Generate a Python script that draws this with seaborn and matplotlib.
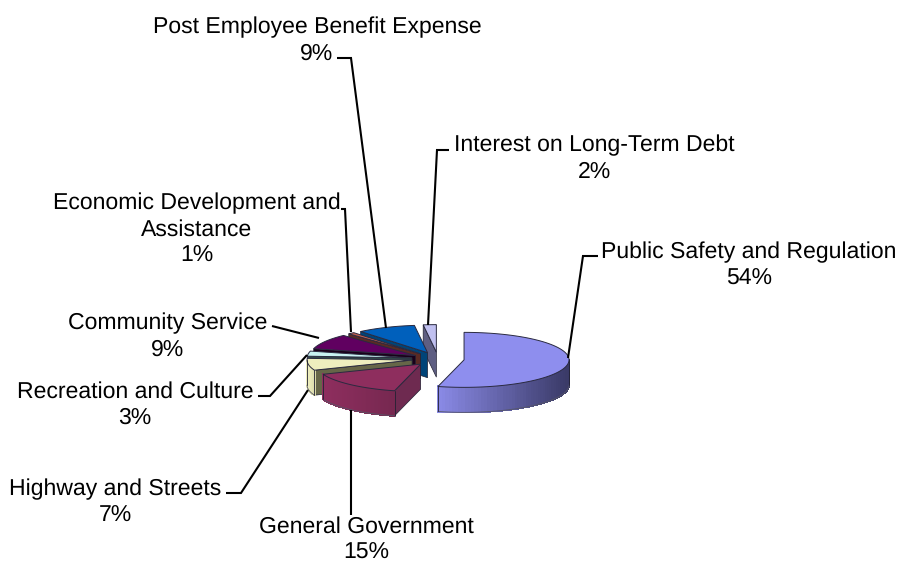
"""Exploded 3D style pie of expenses by function, drawn on a pixel sized axes."""
import numpy as np
import matplotlib.pyplot as plt
import seaborn as sns

categories = [
    "Public Safety and Regulation",
    "General Government",
    "Highway and Streets",
    "Recreation and Culture",
    "Community Service",
    "Economic Development and\nAssistance",
    "Post Employee Benefit Expense",
    "Interest on Long-Term Debt",
]
values = [54, 15, 7, 3, 9, 1, 9, 2]
top_colors = ["#8E8EEE", "#8E2E5E", "#EEEEBE", "#C8F2F2", "#600060", "#C0604F", "#0060BC", "#C0C0F0"]
side_light = ["#8A8AE6", "#8E2E5E", "#EEEEBE", "#B8E0E0", "#500050", "#A05044", "#0058A8", "#A8A8D8"]
side_dark = ["#383864", "#762850", "#D8D8A8", "#708080", "#300030", "#70352E", "#00406E", "#5C5C80"]
wall_colors = ["#5C5C80", "#6E2A50", "#666648", "#304848", "#1A001A", "#5A2A24", "#004478", "#5E5E82"]

# label anchor (centre x, last baseline) and leader line, same order as categories
label_xy = [(749, 285), (366, 559), (115, 522), (135, 424), (168, 356), (197, 262), (317, 60), (594, 178)]
leaders = [
    [(568, 358), (583, 256), (598, 256)],
    [(351, 410), (351, 515)],
    [(308, 390), (241, 493), (226, 493)],
    [(307, 355), (270, 396), (258, 396)],
    [(319, 338), (272, 326)],
    [(351, 332), (345, 209), (341, 209)],
    [(386, 328), (351, 58), (337, 58)],
    [(428, 325), (437, 150), (449, 150)],
]

CX, CY = 438, 359
RX, RY = 105, 27.5
DEPTH = 25
EXPLODE = 0.25

sns.set_theme(style="white")
plt.rcParams["font.family"] = ["Liberation Sans", "DejaVu Sans"]
plt.rcParams["text.hinting"] = "no_hinting"
plt.rcParams["text.hinting_factor"] = 1

fig = plt.figure(figsize=(8.97, 5.61), dpi=100)
ax = fig.add_axes([0, 0, 1, 1])
ax.set_xlim(0, 897)
ax.set_ylim(561, 0)
ax.axis("off")


def rim(cx, cy, theta):
    return cx + RX * np.sin(theta), cy - RY * np.cos(theta)


edges = np.radians(np.cumsum([0] + values) * 3.6)

# back slices first, the big slice sits clear of the others
for i in range(len(values) - 1, -1, -1):
    start, end = edges[i], edges[i + 1]
    mid = (start + end) / 2
    cx, cy = rim(CX, CY, mid)
    cx = CX + EXPLODE * (cx - CX)
    cy = CY + EXPLODE * (cy - CY)

    # cut face at the start of the slice, only seen on the left half
    if np.pi < start < 2 * np.pi:
        sx, sy = rim(cx, cy, start)
        ax.fill([cx, sx, sx, cx], [cy, sy, sy + DEPTH, cy + DEPTH],
                color=wall_colors[i], ec="#222233", lw=0.5)

    # outer side, front half of the rim only
    lo, hi = max(start, np.pi / 2), min(end, 3 * np.pi / 2)
    if lo < hi:
        thetas = np.linspace(lo, hi, 60)
        xs, ys = rim(cx, cy, thetas)
        shades = sns.blend_palette([side_light[i], side_dark[i]], 60)
        span = xs.max() - xs.min()
        for j in range(len(thetas) - 1):
            c = shades[int((xs[j] - xs.min()) / span * 59)]
            ax.fill([xs[j], xs[j + 1], xs[j + 1], xs[j]],
                    [ys[j], ys[j + 1], ys[j + 1] + DEPTH, ys[j] + DEPTH],
                    color=c, lw=0.8, antialiased=False)
        ax.plot(xs, ys + DEPTH, color="#555566", lw=0.6)
        ax.plot([xs[0], xs[0]], [ys[0], ys[0] + DEPTH], color="#222233", lw=0.6)
        ax.plot([xs[-1], xs[-1]], [ys[-1], ys[-1] + DEPTH], color="#222233", lw=0.6)

    # top face
    thetas = np.linspace(start, end, 80)
    xs, ys = rim(cx, cy, thetas)
    ax.fill(np.r_[cx, xs], np.r_[cy, ys], color=top_colors[i], ec="#2A2A40", lw=0.7)

for pts in leaders:
    ax.plot(*zip(*pts), color="black", lw=1.5, solid_capstyle="butt", solid_joinstyle="miter")

for name, val, (x, y) in zip(categories, values, label_xy):
    ax.text(x, y, f"{name}\n{val}%", ha="center", va="baseline", fontsize=16.74,
            color="black", linespacing=1.3)

fig.savefig("out.png", dpi=100)
